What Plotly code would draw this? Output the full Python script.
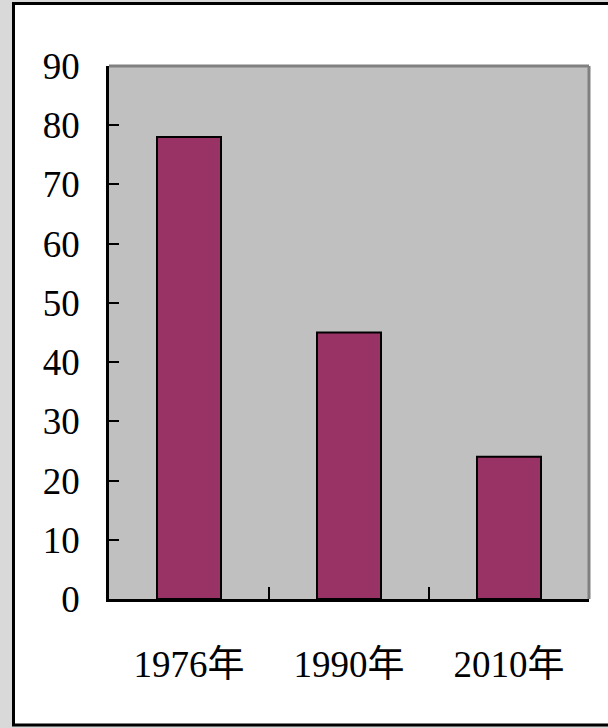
import plotly.graph_objects as go

categories = ["1976年", "1990年", "2010年"]
values = [78, 45, 24]
y_ticks = list(range(0, 91, 10))

W, H = 608, 728
L, R, T, B = 109, 19, 66, 129
pw, ph = W - L - R, H - T - B

def px_x(p):
    return (p - L) / pw

def px_y(p):
    return (H - B - p) / ph

fig = go.Figure(
    go.Bar(
        x=categories,
        y=values,
        width=0.4,
        marker=dict(color="#993366", line=dict(color="black", width=2)),
    )
)

fig.update_layout(
    width=W,
    height=H,
    margin=dict(l=L, r=R, t=T, b=B, pad=0),
    paper_bgcolor="#d9d9d9",
    plot_bgcolor="rgba(0,0,0,0)",
    showlegend=False,
    shapes=[
        dict(type="rect", xref="paper", yref="paper", layer="below",
             x0=px_x(13.5), x1=px_x(640), y0=px_y(725), y1=px_y(3.5),
             fillcolor="white", line=dict(color="black", width=3)),
        dict(type="rect", xref="paper", yref="paper", layer="below",
             x0=0, x1=1, y0=0, y1=1, fillcolor="#c0c0c0",
             line=dict(width=0)),
        dict(type="line", xref="paper", yref="paper", layer="below",
             x0=0, x1=1, y0=1, y1=1, line=dict(color="#808080", width=3)),
        dict(type="line", xref="paper", yref="paper", layer="below",
             x0=1, x1=1, y0=0, y1=1, line=dict(color="#808080", width=3)),
    ],
)

fig.update_xaxes(
    type="category",
    showline=True, linecolor="black", linewidth=2.5,
    ticks="inside", tickson="boundaries", ticklen=12, tickwidth=2, tickcolor="black",
    showgrid=False, zeroline=False,
    tickfont=dict(family="Liberation Serif, Noto Sans CJK SC", size=37, color="black"),
    ticklabelstandoff=31,
)

fig.update_yaxes(
    range=[0, 90],
    tickvals=y_ticks,
    ticktext=[str(v) for v in y_ticks],
    showline=True, linecolor="black", linewidth=2.5,
    ticks="inside", ticklen=10, tickwidth=2, tickcolor="black",
    showgrid=False, zeroline=False,
    tickfont=dict(family="Liberation Serif", size=37, color="black"),
    ticklabelstandoff=19,
)

fig.write_html("out.html")
